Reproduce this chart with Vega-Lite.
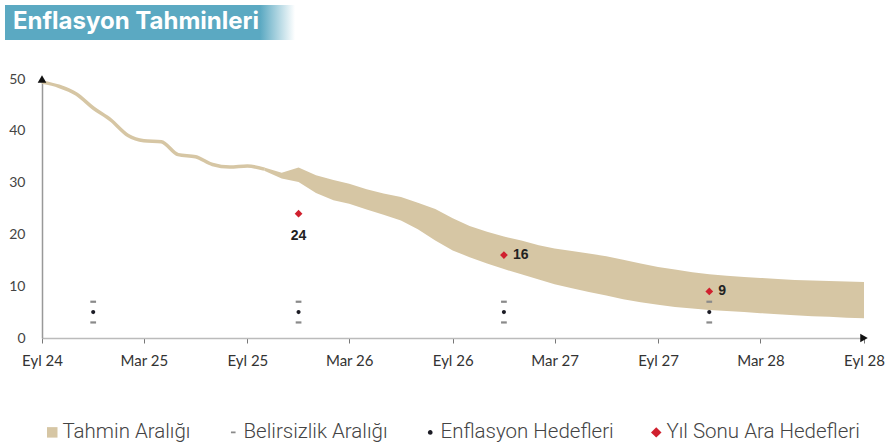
{
  "$schema": "https://vega.github.io/schema/vega-lite/v6.json",
  "background": "white",
  "padding": {"left": 5, "top": 5, "right": 0, "bottom": 0},
  "spacing": 32,
  "config": {
    "view": {"stroke": null},
    "font": "Lato"
  },
  "datasets": {
    "history": [
      {"date": "2024-09-01", "value": 49.4},
      {"date": "2024-10-01", "value": 48.6},
      {"date": "2024-11-01", "value": 47.1},
      {"date": "2024-12-01", "value": 44.4},
      {"date": "2025-01-01", "value": 42.1},
      {"date": "2025-02-01", "value": 39.1},
      {"date": "2025-03-01", "value": 38.1},
      {"date": "2025-04-01", "value": 37.9},
      {"date": "2025-05-01", "value": 35.4},
      {"date": "2025-06-01", "value": 35.0},
      {"date": "2025-07-01", "value": 33.5},
      {"date": "2025-08-01", "value": 33.0},
      {"date": "2025-09-01", "value": 33.2},
      {"date": "2025-10-01", "value": 32.6}
    ],
    "forecast": [
      {"date": "2025-10-01", "lo": 32.3, "hi": 32.9},
      {"date": "2025-11-01", "lo": 30.8, "hi": 31.9},
      {"date": "2025-12-01", "lo": 30.1, "hi": 32.9},
      {"date": "2026-01-01", "lo": 28.0, "hi": 31.4},
      {"date": "2026-02-01", "lo": 26.6, "hi": 30.5},
      {"date": "2026-03-01", "lo": 25.9, "hi": 29.8},
      {"date": "2026-04-01", "lo": 24.8, "hi": 28.7},
      {"date": "2026-05-01", "lo": 23.8, "hi": 27.9},
      {"date": "2026-06-01", "lo": 22.7, "hi": 27.2},
      {"date": "2026-07-01", "lo": 21.0, "hi": 26.1},
      {"date": "2026-08-01", "lo": 18.8, "hi": 24.9},
      {"date": "2026-09-01", "lo": 16.9, "hi": 23.1},
      {"date": "2026-10-01", "lo": 15.6, "hi": 21.6},
      {"date": "2026-11-01", "lo": 14.4, "hi": 20.5},
      {"date": "2026-12-01", "lo": 13.3, "hi": 19.6},
      {"date": "2027-01-01", "lo": 12.3, "hi": 18.8},
      {"date": "2027-02-01", "lo": 11.3, "hi": 17.9},
      {"date": "2027-03-01", "lo": 10.4, "hi": 17.3},
      {"date": "2027-04-01", "lo": 9.6, "hi": 16.8},
      {"date": "2027-05-01", "lo": 8.9, "hi": 16.3},
      {"date": "2027-06-01", "lo": 8.2, "hi": 15.8},
      {"date": "2027-07-01", "lo": 7.5, "hi": 15.1},
      {"date": "2027-08-01", "lo": 6.9, "hi": 14.4},
      {"date": "2027-09-01", "lo": 6.4, "hi": 13.7},
      {"date": "2027-10-01", "lo": 6.0, "hi": 13.2},
      {"date": "2027-11-01", "lo": 5.7, "hi": 12.7},
      {"date": "2027-12-01", "lo": 5.4, "hi": 12.3},
      {"date": "2028-01-01", "lo": 5.2, "hi": 12.0},
      {"date": "2028-02-01", "lo": 5.0, "hi": 11.8},
      {"date": "2028-03-01", "lo": 4.8, "hi": 11.6},
      {"date": "2028-04-01", "lo": 4.6, "hi": 11.4},
      {"date": "2028-05-01", "lo": 4.4, "hi": 11.2},
      {"date": "2028-06-01", "lo": 4.2, "hi": 11.1},
      {"date": "2028-07-01", "lo": 4.1, "hi": 11.0},
      {"date": "2028-08-01", "lo": 3.9, "hi": 10.9},
      {"date": "2028-09-01", "lo": 3.8, "hi": 10.8}
    ],
    "targets": [
      {"date": "2024-12-01", "target": 5, "low": 3, "high": 7},
      {"date": "2025-12-01", "target": 5, "low": 3, "high": 7},
      {"date": "2026-12-01", "target": 5, "low": 3, "high": 7},
      {"date": "2027-12-01", "target": 5, "low": 3, "high": 7}
    ],
    "interim": [
      {"date": "2025-12-01", "year": 2025, "value": 24},
      {"date": "2026-12-01", "year": 2026, "value": 16},
      {"date": "2027-12-01", "year": 2027, "value": 9}
    ],
    "yaxisend": [{"date": "2024-09-01", "v": 50}],
    "xaxisend": [{"date": "2028-09-01", "v": 0}]
  },
  "vconcat": [
    {
      "width": 290,
      "height": 35,
      "data": {"values": [{"title": "Enflasyon Tahminleri"}]},
      "layer": [
        {
          "mark": {
            "type": "rect",
            "color": {
              "gradient": "linear", "x1": 0, "x2": 1, "y1": 0, "y2": 0,
              "stops": [
                {"offset": 0, "color": "#5ba9c2"},
                {"offset": 0.88, "color": "#5ba9c2"},
                {"offset": 1, "color": "#ffffff"}
              ]
            }
          },
          "encoding": {}
        },
        {
          "mark": {"type": "text", "color": "white", "font": "Inter", "fontWeight": "bold", "fontSize": 24, "align": "center", "dx": -14, "dy": -1},
          "encoding": {"text": {"field": "title"}}
        }
      ]
    },
    {
      "hconcat": [
        {
          "width": 1,
          "height": 259,
          "data": {"values": [{"v": 0}]},
          "mark": {"type": "point", "opacity": 0, "size": 0},
          "encoding": {
            "y": {
              "field": "v", "type": "quantitative",
              "scale": {"domain": [0, 50], "nice": false},
              "axis": {
                "orient": "right", "title": null, "grid": false, "ticks": false, "domain": false,
                "values": [0, 10, 20, 30, 40, 50],
                "labelAlign": "right", "labelPadding": 19,
                "labelFont": "Lato", "labelFontSize": 14, "labelColor": "#444444"
              }
            }
          }
        },
        {
          "width": 822,
          "height": 259,
          "layer": [
            {
              "data": {"name": "forecast"},
              "mark": {"type": "area", "opacity": 1},
              "encoding": {
                "x": {
                  "field": "date", "type": "temporal",
                  "scale": {"type": "utc", "domain": [{"year": 2024, "month": 9, "date": 1, "utc": true}, {"year": 2028, "month": 9, "date": 1, "utc": true}]},
                  "axis": {
                    "title": null,
                    "grid": false,
                    "values": [
                      {"year": 2024, "month": 9, "date": 1, "utc": true},
                      {"year": 2025, "month": 3, "date": 1, "utc": true},
                      {"year": 2025, "month": 9, "date": 1, "utc": true},
                      {"year": 2026, "month": 3, "date": 1, "utc": true},
                      {"year": 2026, "month": 9, "date": 1, "utc": true},
                      {"year": 2027, "month": 3, "date": 1, "utc": true},
                      {"year": 2027, "month": 9, "date": 1, "utc": true},
                      {"year": 2028, "month": 3, "date": 1, "utc": true},
                      {"year": 2028, "month": 9, "date": 1, "utc": true}
                    ],
                    "labelExpr": "(utcmonth(datum.value) == 8 ? 'Eyl ' : 'Mar ') + utcFormat(datum.value, '%y')",
                    "labelFlush": false,
                    "labelOverlap": false,
                    "domainColor": "#bbbbbb",
                    "domainWidth": 1.5,
                    "tickColor": "#777777",
                    "tickSize": 5,
                    "labelPadding": 10,
                    "labelFont": "Lato",
                    "labelFontSize": 15,
                    "labelColor": "#333333"
                  }
                },
                "y": {
                  "field": "lo", "type": "quantitative",
                  "scale": {"domain": [0, 50], "nice": false, "zero": true},
                  "axis": {
                    "title": null,
                    "grid": false,
                    "labels": false,
                    "ticks": false,
                    "minExtent": 0,
                    "domainColor": "#999999",
                    "domainWidth": 1.5
                  }
                },
                "y2": {"field": "hi"},
                "color": {
                  "datum": "Tahmin Aralığı", "type": "nominal",
                  "scale": {
                    "domain": ["Tahmin Aralığı", "Belirsizlik Aralığı", "Enflasyon Hedefleri", "Yıl Sonu Ara Hedefleri"],
                    "range": ["#d6c6a4", "#8a8a8a", "#1b1b24", "#d0202e"]
                  },
                  "legend": {
                    "title": null, "orient": "bottom", "direction": "horizontal",
                    "labelFont": "Roboto", "labelFontSize": 20.5, "labelFontWeight": 300, "labelColor": "#444444",
                    "symbolSize": 110, "symbolStrokeWidth": 0, "symbolOpacity": 1,
                    "columnPadding": 32, "labelOffset": 0, "offset": 54, "labelLimit": 300
                  }
                }
              }
            },
            {
              "data": {"name": "history"},
              "mark": {"type": "line", "color": "#d6c6a4", "strokeWidth": 3.5, "interpolate": "monotone"},
              "encoding": {
                "x": {"field": "date", "type": "temporal"},
                "y": {"field": "value", "type": "quantitative"}
              }
            },
            {
              "data": {"name": "targets"},
              "transform": [{"fold": ["low", "high"], "as": ["bound", "bv"]}],
              "mark": {"type": "point", "filled": true, "opacity": 1, "size": 170, "strokeWidth": 0},
              "encoding": {
                "x": {"field": "date", "type": "temporal"},
                "y": {"field": "bv", "type": "quantitative"},
                "color": {"datum": "Belirsizlik Aralığı", "type": "nominal"},
                "shape": {
                  "datum": "Belirsizlik Aralığı", "type": "nominal",
                  "scale": {
                    "domain": ["Tahmin Aralığı", "Belirsizlik Aralığı", "Enflasyon Hedefleri", "Yıl Sonu Ara Hedefleri"],
                    "range": [
                      "square",
                      "M-0.44,-0.17L0.44,-0.17L0.44,0.17L-0.44,0.17Z",
                      "M-0.44,0A0.44,0.44 0 1,0 0.44,0A0.44,0.44 0 1,0 -0.44,0Z",
                      "diamond"
                    ]
                  },
                  "legend": {
                    "title": null, "orient": "bottom", "direction": "horizontal",
                    "labelFont": "Roboto", "labelFontSize": 20.5, "labelFontWeight": 300, "labelColor": "#444444",
                    "symbolSize": 110, "symbolStrokeWidth": 0, "symbolOpacity": 1,
                    "columnPadding": 32, "labelOffset": 0, "offset": 54, "labelLimit": 300
                  }
                }
              }
            },
            {
              "data": {"name": "targets"},
              "mark": {"type": "point", "filled": true, "opacity": 1, "size": 85, "strokeWidth": 0},
              "encoding": {
                "x": {"field": "date", "type": "temporal"},
                "y": {"field": "target", "type": "quantitative"},
                "color": {"datum": "Enflasyon Hedefleri", "type": "nominal"},
                "shape": {"datum": "Enflasyon Hedefleri", "type": "nominal"}
              }
            },
            {
              "data": {"name": "interim"},
              "mark": {"type": "point", "filled": true, "opacity": 1, "size": 60, "strokeWidth": 0},
              "encoding": {
                "x": {"field": "date", "type": "temporal"},
                "y": {"field": "value", "type": "quantitative"},
                "color": {"datum": "Yıl Sonu Ara Hedefleri", "type": "nominal"},
                "shape": {"datum": "Yıl Sonu Ara Hedefleri", "type": "nominal"}
              }
            },
            {
              "data": {"name": "interim"},
              "transform": [{"filter": "datum.year == 2025"}],
              "mark": {"type": "text", "font": "Liberation Sans", "fontWeight": "bold", "fontSize": 14, "color": "#222222", "dy": 22},
              "encoding": {
                "x": {"field": "date", "type": "temporal"},
                "y": {"field": "value", "type": "quantitative"},
                "text": {"field": "value"}
              }
            },
            {
              "data": {"name": "interim"},
              "transform": [{"filter": "datum.year != 2025"}],
              "mark": {"type": "text", "font": "Liberation Sans", "fontWeight": "bold", "fontSize": 14, "color": "#222222", "align": "left", "dx": 9},
              "encoding": {
                "x": {"field": "date", "type": "temporal"},
                "y": {"field": "value", "type": "quantitative"},
                "text": {"field": "value"}
              }
            },
            {
              "data": {"name": "yaxisend"},
              "mark": {"type": "point", "shape": "triangle-up", "filled": true, "opacity": 1, "size": 75, "color": "#111111"},
              "encoding": {
                "x": {"field": "date", "type": "temporal"},
                "y": {"field": "v", "type": "quantitative"}
              }
            },
            {
              "data": {"name": "xaxisend"},
              "mark": {"type": "point", "shape": "triangle-right", "filled": true, "opacity": 1, "size": 75, "color": "#111111"},
              "encoding": {
                "x": {"field": "date", "type": "temporal"},
                "y": {"field": "v", "type": "quantitative"}
              }
            }
          ]
        }
      ],
      "bounds": "flush",
      "spacing": 36,
      "resolve": {
        "scale": {"color": "independent", "shape": "independent"},
        "legend": {"color": "independent", "shape": "independent"}
      }
    }
  ]
}
